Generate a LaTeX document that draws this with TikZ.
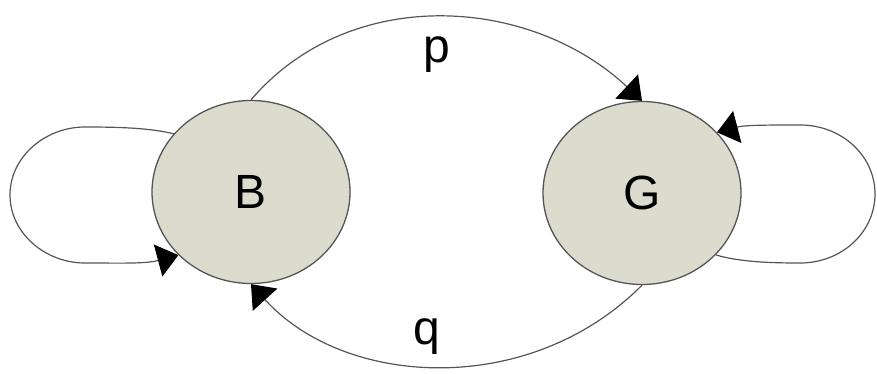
\documentclass[tikz,border=0pt]{standalone}
\usepackage{fontspec}
\setmainfont{Liberation Sans}
\usetikzlibrary{arrows.meta,shapes.geometric}
\definecolor{statefill}{RGB}{219,220,205}
\definecolor{edgecol}{RGB}{85,85,85}
\tikzset{
  state/.style={ellipse,draw=edgecol,line width=1.3pt,fill=statefill,minimum width=198pt,minimum height=183pt,inner sep=0pt,font=\fontsize{48}{48}\selectfont,text=black},
  lbl/.style={inner sep=0pt,font=\fontsize{48}{48}\selectfont},
  edge/.style={draw=edgecol,line width=1.2pt,-{Triangle[length=21pt,width=33pt,color=black]}}
}
\begin{document}
\begin{tikzpicture}[x=1pt,y=-1pt]
\useasboundingbox (0,0) rectangle (877,374);
\node[state] (B) at (251,192) {B};
\node[state] (G) at (642,193) {G};
\node[lbl] (p) at (437,55) {p};
\node[lbl] (q) at (427,337) {q};
% self loops
\draw[edge] (B.143) .. controls (150,128) and (120,127) .. (85,127)
  .. controls (45,127) and (10,157) .. (10,195)
  .. controls (10,233) and (45,263) .. (85,263)
  .. controls (120,263) and (145,264) .. (B.221);
\draw[edge] (G.-40) .. controls (740,262) and (770,263) .. (800,263)
  .. controls (842,263) and (875,232) .. (875,194)
  .. controls (875,156) and (842,125) .. (800,125)
  .. controls (770,125) and (745,125) .. (G.39);
% arcs
\draw[edge] (B.north) .. controls (350,-16) and (530,-4) .. (G.north);
\draw[edge] (G.south) .. controls (530,398) and (345,388) .. (B.south);
\end{tikzpicture}
\end{document}
